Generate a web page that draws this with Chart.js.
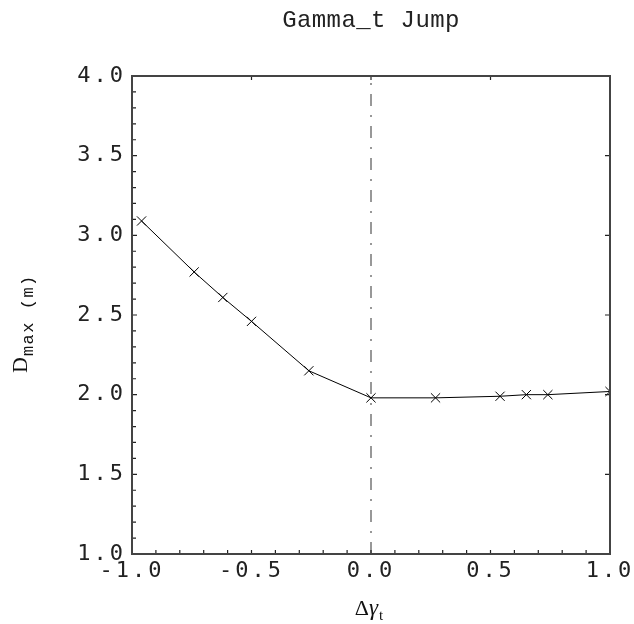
<!DOCTYPE html>
<html>
<head>
<meta charset="utf-8">
<script src="https://cdn.jsdelivr.net/npm/chart.js@4"></script>
<style>
  html, body { margin: 0; padding: 0; background: #fff; }
  #wrap { width: 634px; height: 624px; }
</style>
</head>
<body>
<div id="wrap"><canvas id="chartJump"></canvas></div>
<script>
// valores
const deltaGamma = [-0.96, -0.74, -0.62, -0.50, -0.26, 0.00, 0.27, 0.54, 0.65, 0.74, 1.00];
const dMax = [3.09, 2.77, 2.61, 2.46, 2.15, 1.98, 1.98, 1.99, 2.00, 2.00, 2.02];

const xMajorTicks = [-1.0, -0.5, 0.0, 0.5, 1.0];
const xMinorTicks = [-0.9, -0.8, -0.7, -0.6, -0.4, -0.3, -0.2, -0.1, 0.1, 0.2, 0.3, 0.4, 0.6, 0.7, 0.8, 0.9];
const yMajorTicks = [1.0, 1.5, 2.0, 2.5, 3.0, 3.5, 4.0];
const yMinorTicks = [1.1, 1.2, 1.3, 1.4, 1.6, 1.7, 1.8, 1.9, 2.1, 2.2, 2.3, 2.4, 2.6, 2.7, 2.8, 2.9,
                     3.1, 3.2, 3.3, 3.4, 3.6, 3.7, 3.8, 3.9];

const titulo = 'Gamma_t Jump';
const fonteTick = '"DejaVu Sans Mono", monospace';

(function() {
    // espaçamento entre letras dos rótulos dos eixos
    const espacamento = {
        id: 'espacamento',
        beforeUpdate(chart) { chart.ctx.letterSpacing = '3px'; },
        beforeDraw(chart) { chart.ctx.letterSpacing = '3px'; }
    };

    // moldura, ticks para dentro, linha traço-ponto, títulos
    const moldura = {
        id: 'moldura',
        afterDraw(chart) {
            const ctx = chart.ctx;
            const a = chart.chartArea;
            const sx = chart.scales.x, sy = chart.scales.y;
            ctx.save();
            ctx.letterSpacing = '0px';

            // linha vertical em x = 0
            const x0 = sx.getPixelForValue(0);
            ctx.strokeStyle = '#777';
            ctx.lineWidth = 1.5;
            ctx.setLineDash([12, 9, 2, 9]);
            ctx.beginPath();
            ctx.moveTo(x0, a.bottom);
            ctx.lineTo(x0, a.top);
            ctx.stroke();
            ctx.setLineDash([]);

            // ticks
            ctx.strokeStyle = '#222';
            ctx.lineWidth = 1.2;
            ctx.beginPath();
            yMinorTicks.forEach(v => {
                const y = sy.getPixelForValue(v);
                ctx.moveTo(a.left, y); ctx.lineTo(a.left + 4, y);
            });
            yMajorTicks.forEach(v => {
                const y = sy.getPixelForValue(v);
                ctx.moveTo(a.left, y); ctx.lineTo(a.left + 5, y);
                ctx.moveTo(a.right, y); ctx.lineTo(a.right - 5, y);
            });
            xMinorTicks.concat(xMajorTicks).forEach(v => {
                const x = sx.getPixelForValue(v);
                ctx.moveTo(x, a.bottom); ctx.lineTo(x, a.bottom - 4);
            });
            xMajorTicks.forEach(v => {
                const x = sx.getPixelForValue(v);
                ctx.moveTo(x, a.top); ctx.lineTo(x, a.top + 4);
            });
            ctx.stroke();

            // moldura
            ctx.strokeStyle = '#444';
            ctx.lineWidth = 2;
            ctx.strokeRect(a.left, a.top, a.right - a.left, a.bottom - a.top);

            // título
            ctx.fillStyle = '#222';
            ctx.font = '24px "Liberation Mono", monospace';
            ctx.letterSpacing = '0.4px';
            ctx.textAlign = 'center';
            ctx.textBaseline = 'alphabetic';
            ctx.fillText(titulo, (a.left + a.right) / 2, 27);
            ctx.letterSpacing = '0px';

            // rótulo do eixo x: Δγ_t
            ctx.fillStyle = '#111';
            ctx.textAlign = 'left';
            const fDelta = '22px "Liberation Serif", serif';
            const fGamma = 'italic 23px "Liberation Serif", serif';
            const fSub = '15px "Liberation Serif", serif';
            ctx.font = fDelta; const w1 = ctx.measureText('Δ').width;
            ctx.font = fGamma; const w2 = ctx.measureText('γ').width;
            ctx.font = fSub; const w3 = ctx.measureText('t').width;
            let xl = (a.left + a.right) / 2 - 2 - (w1 + w2 + w3 + 1) / 2;
            const yl = 615;
            ctx.font = fDelta; ctx.fillText('Δ', xl, yl); xl += w1;
            ctx.font = fGamma; ctx.fillText('γ', xl, yl); xl += w2 + 1;
            ctx.font = fSub; ctx.fillText('t', xl, yl + 5);

            // rótulo do eixo y: D_max (m)
            ctx.translate(27, 373);
            ctx.rotate(-Math.PI / 2);
            ctx.font = '22px "Liberation Serif", serif';
            ctx.fillText('D', 0, 0);
            const wD = ctx.measureText('D').width;
            ctx.font = '17px "Liberation Mono", monospace';
            ctx.letterSpacing = '1.5px';
            ctx.fillText('max (m)', wD + 1, 6);
            ctx.restore();
        }
    };

    const ctxJ = document.getElementById('chartJump');
    new Chart(ctxJ, {
        type: 'line',
        data: {
            datasets: [{
                label: 'Dmax',
                data: deltaGamma.map((x, i) => ({ x: x, y: dMax[i] })),
                borderColor: '#000',
                borderWidth: 1,
                pointStyle: 'crossRot',
                pointRadius: 6.5,
                pointBorderWidth: 1,
                pointBorderColor: '#000',
                pointBackgroundColor: '#000',
                tension: 0,
                fill: false
            }]
        },
        options: {
            responsive: true,
            maintainAspectRatio: false,
            animation: false,
            events: [],
            layout: { padding: { top: 76, right: 24, left: 0, bottom: 0 } },
            plugins: { legend: { display: false }, title: { display: false }, tooltip: { enabled: false } },
            scales: {
                x: {
                    type: 'linear',
                    min: -1, max: 1,
                    border: { display: false },
                    grid: { display: false, drawTicks: false },
                    afterBuildTicks: s => { s.ticks = xMajorTicks.map(v => ({ value: v })); },
                    afterFit: s => { s.height = 70; s.paddingLeft = 0; s.paddingRight = 0; },
                    ticks: {
                        padding: 4,
                        maxRotation: 0,
                        color: '#222',
                        font: { family: fonteTick, size: 22 },
                        callback: v => v.toFixed(1)
                    }
                },
                y: {
                    min: 1, max: 4,
                    border: { display: false },
                    grid: { display: false, drawTicks: false },
                    afterBuildTicks: s => { s.ticks = yMajorTicks.map(v => ({ value: v })); },
                    afterFit: s => { s.width = 132; s.paddingTop = 0; s.paddingBottom = 0; },
                    ticks: {
                        padding: 6,
                        color: '#222',
                        font: { family: fonteTick, size: 22 },
                        callback: v => v.toFixed(1)
                    }
                }
            }
        },
        plugins: [espacamento, moldura]
    });
})();
</script>
</body>
</html>
